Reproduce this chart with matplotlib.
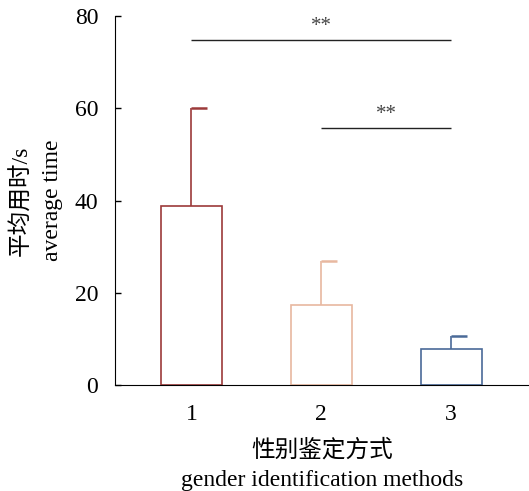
import matplotlib
matplotlib.use("Agg")
import matplotlib.pyplot as plt

categories = [1, 2, 3]
tick_labels = ["1", "2", "3"]
means = [38.8, 17.3, 7.8]
errors = [21.2, 9.6, 2.8]
colors = ["#9c3a3a", "#e8b8a0", "#4a6a98"]
sig_pairs = [(1, 3, 74.8, "**"), (2, 3, 55.7, "**")]

plt.rcParams['font.family'] = ['Liberation Serif', 'Noto Sans CJK SC']
plt.rcParams['font.size'] = 17

fig = plt.figure(figsize=(5.29, 4.91), dpi=100)
ax = fig.add_axes([0.217, 0.216, 0.783, 0.751])

bw = 0.47
cap = 0.12
for x, m, e, c in zip(categories, means, errors, colors):
    ax.bar(x, m, width=bw, facecolor="white", edgecolor=c, linewidth=1.2, zorder=2)
    ax.vlines(x, m, m + e, color=c, linewidth=1.2, zorder=1)
    ax.hlines(m + e, x, x + cap, color=c, linewidth=1.8, zorder=1)

for x1, x2, y, s in sig_pairs:
    ax.hlines(y, x1, x2, color="#222222", linewidth=1.0)
    ax.text((x1 + x2) / 2, y + 0.9, s, ha="center", va="bottom", fontsize=15, color="#444444")

ax.set_xlim(0.41, 3.6)
ax.set_ylim(0, 80)
ax.set_yticks([0, 20, 40, 60, 80])
ax.set_xticks(categories)
ax.set_xticklabels(tick_labels)
ax.spines['top'].set_visible(False)
ax.spines['right'].set_visible(False)
ax.tick_params(axis='y', direction='in', length=4, width=1, pad=12)
ax.tick_params(axis='x', length=0, pad=14)
ax.set_xlabel("性别鉴定方式\ngender identification methods", linespacing=1.5, labelpad=10,
              fontweight=300)
ax.set_ylabel("平均用时/s\naverage time", linespacing=1.6, labelpad=8, fontweight=300)

fig.savefig("out.png", dpi=100)
